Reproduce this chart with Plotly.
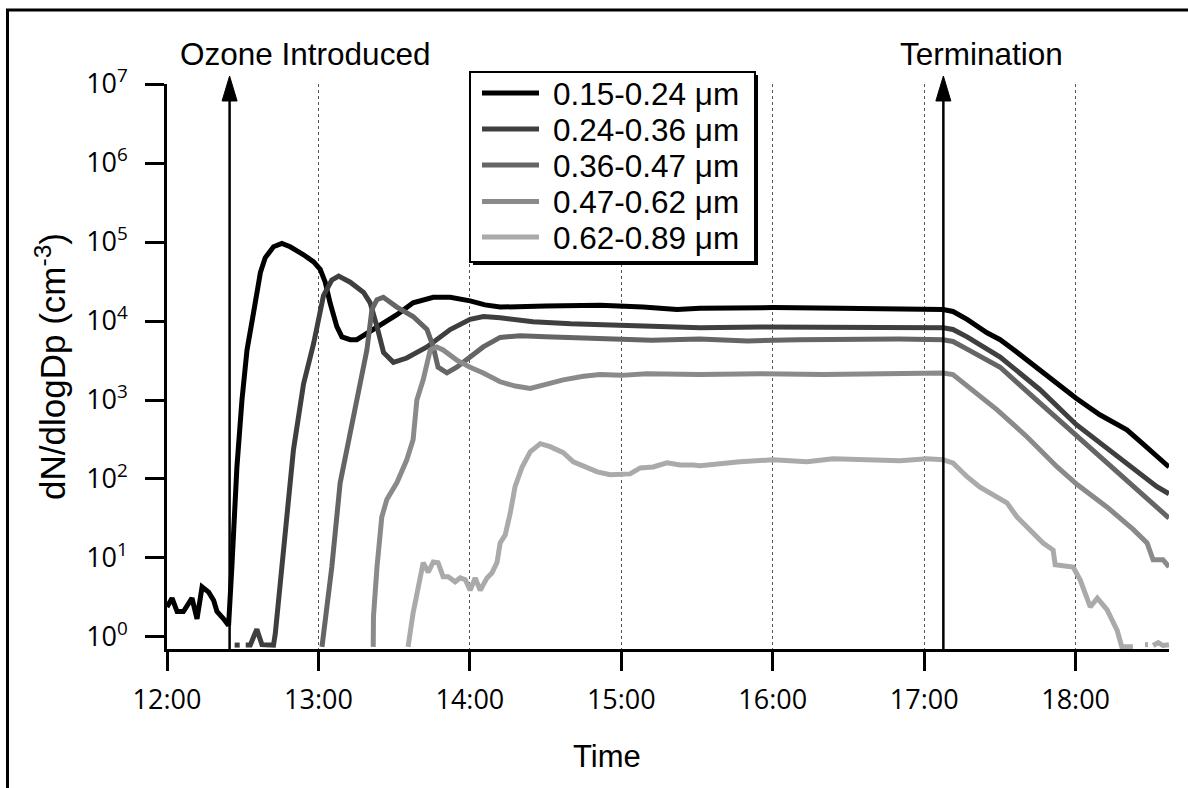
import plotly.graph_objects as go

# ---------------- data (time in minutes after 12:00, dN/dlogDp in cm^-3) ----------------
series_names = ["0.15-0.24 μm", "0.24-0.36 μm", "0.36-0.47 μm", "0.47-0.62 μm", "0.62-0.89 μm"]
series_colors = ["#000000", "#3f3f3f", "#656565", "#8a8a8a", "#aaaaaa"]

t1 = [0, 2, 4, 6.5, 9.9, 11.9, 13.9, 16.5, 18.5, 19.8, 22.4, 24.4, 25.7, 27.7, 29.7, 31.7, 34.3, 37.0,
      38.9, 42.2, 45.5, 48.8, 54.1, 58.1, 60.7, 62.7, 64.6, 67.3, 69.3, 72.6, 75.2, 80.5, 85.7, 91.1,
      97.5, 105.5, 112.2, 120.1, 126, 132, 150, 171.6, 188.6, 202.1, 211.2, 229.8, 240.1, 266.6, 290.4,
      307.5, 311.4, 317.0, 324.9, 330.1, 335.2, 345.9, 352, 360.2, 369.6, 375, 380.3, 386, 392.2, 397]
v1 = [2.4, 3.1, 2.1, 2.1, 3.1, 1.7, 4.3, 3.7, 2.9, 2.1, 1.7, 1.4, 7.7, 142, 1000, 4300, 12800, 41000,
      63000, 87000, 96000, 87000, 69000, 56000, 45000, 31000, 17000, 8500, 6300, 5800, 5800, 7400, 9500, 12000,
      17000, 20000, 20000, 18000, 16000, 15000, 15500, 15800, 15000, 14000, 14500, 15000, 14800, 14500, 14200,
      14000, 13200, 10500, 7100, 5800, 4400, 2400, 1700, 1050, 650, 520, 420, 290, 190, 142]

t2 = [26.8, 28.8, 29.8, 31.2, 33.0, 34.3, 35.6, 37.6, 42.2, 42.9, 46.2, 50.1, 54.1, 58.1, 62.0, 65.3,
      68.0, 72.6, 77.9, 80.5, 83.2, 85.8, 89.7, 95.0, 103.0, 112.2, 120.1, 125.4, 132, 145, 160, 171.6,
      190, 211.2, 235, 260, 285, 307.5, 311.4, 317, 330.1, 345.9, 360.2, 369.6, 380.3, 386, 392.2, 397]
v2 = [0.79, 0.79, None, 0.79, 0.79, 1.0, 1.25, 0.8, 0.79, 1.1, 12.6, 234, 1600, 5200, 21000, 33000,
      37000, 31000, 23000, 17000, 8500, 4000, 3000, 3400, 4700, 7800, 10500, 11400, 11000, 9800, 9200, 8900,
      8600, 8200, 8400, 8300, 8200, 8200, 7800, 6300, 3500, 1350, 490, 290, 156, 113, 80, 65]

t3 = [61.4, 65.3, 68.6, 72.6, 76.5, 79.2, 81.2, 83.2, 85.7, 91.1, 97.5, 103.0, 105.5, 107.4, 110.9,
      114.8, 120.1, 125.3, 132, 140, 150, 171.6, 192, 211, 230, 250, 270, 290, 307.5, 311.4, 317, 330.1,
      345.9, 360.2, 369.6, 380.3, 386, 392.2, 397]
v3 = [0.75, 7.7, 89, 385, 1500, 4300, 14000, 18600, 20000, 15000, 11400, 7800, 4700, 2600, 2200,
      2600, 3500, 4700, 6200, 6500, 6300, 6000, 5700, 5900, 5600, 5800, 5900, 5900, 5800, 5500, 4400, 2600,
      910, 355, 190, 95, 66, 43, 32]

t4 = [81.7, 81.8, 83.2, 85.1, 87.1, 91.1, 95.0, 97.5, 99.0, 101.5, 104.3, 106.9, 109.4, 114.8, 120.1,
      125.3, 132, 138, 143.9, 150, 157, 165, 171.6, 180, 190, 211, 235, 260, 280, 307.5, 311.4, 317,
      328.9, 340.8, 352.7, 360.6, 372.5, 382.8, 388.3, 390.7, 394.6, 397]
v4 = [0.75, 1.8, 7.7, 33, 55, 90, 175, 315, 1000, 1800, 4300, 4700, 4300, 3200, 2600,
      2200, 1700, 1500, 1400, 1600, 1800, 2000, 2100, 2050, 2150, 2100, 2150, 2100, 2150, 2200, 2100, 1500,
      750, 340, 142, 85, 44, 23, 15.5, 9.5, 9.5, 7.7]

t5 = [95.5, 97.5, 101.5, 103.5, 105.5, 107.4, 109.4, 111.4, 114.2, 116.2, 118.2, 120.1, 122.1, 124.1,
      126.8, 128.8, 130.8, 132, 134, 136, 137.9, 140.7, 143.9, 147.9, 151.8, 157, 161, 166.5, 170.5, 175.6,
      179.6, 183.5, 187.5, 192.6, 198.1, 203.3, 208.5, 211.2,
      227.0, 240.1, 253.6, 263.9, 277.3, 290.4, 301.1, 307.5,
      311.4, 317, 322.1, 328.9, 332.8, 336.8, 343.1, 347.1, 351.1, 351.9, 359, 361.8, 365.8, 368.6, 372.5,
      376.5, 378.3, 380.7, 382.7, 383.9, 384.7, 385.9, 387.5, 388.7, 389.5, 390.7, 392.7, 394.6, 397]
v5 = [0.75, 2.0, 8.7, 6.6, 8.9, 8.7, 5.8, 5.8, 5.0, 5.6, 5.3, 3.9, 5.6, 3.9,
      5.6, 6.5, 8.9, 15.5, 19.6, 37, 80, 142, 220, 280, 257, 215, 165, 142, 123, 113,
      113, 116, 138, 142, 160, 150, 150, 147,
      165, 175, 165, 180, 175, 170, 180, 175,
      160, 107, 79, 59, 50, 33, 21, 15.5, 12.6, 8.2, 7.7, 5.3, 2.4, 3.1, 2.2,
      1.2, 0.75, 0.75, 0.75, None, 0.8, None, 0.8, 0.8, None, 0.78, 0.85, 0.78, 0.8]

tick_minutes = [0, 60, 120, 180, 240, 300, 360]
tick_labels = ["12:00", "13:00", "14:00", "15:00", "16:00", "17:00", "18:00"]
y_tick_exponents = [0, 1, 2, 3, 4, 5, 6, 7]
y_tick_labels = ["10<sup>%d</sup>" % e for e in y_tick_exponents]

ozone_time = 24.8          # minutes after 12:00
termination_time = 307.6   # minutes after 12:00
x_end = 397

# ---------------- figure ----------------
W, H = 1188, 788
ML, MR, MT, MB = 167, 19, 84, 139
PW, PH = W - ML - MR, H - MT - MB


def px(xp):
    return (xp - ML) / PW


def py(yp):
    return (H - MB - yp) / PH


arial = "Liberation Sans, Arial, sans-serif"
tickfont = dict(family="Open Sans, DejaVu Sans, sans-serif", size=27, color="black")

fig = go.Figure()
all_t = [t1, t2, t3, t4, t5]
all_v = [v1, v2, v3, v4, v5]
for name, color, tt, vv in zip(series_names, series_colors, all_t, all_v):
    fig.add_trace(go.Scatter(x=tt, y=vv, mode="lines", name=name, showlegend=False,
                             line=dict(color=color, width=5), connectgaps=False))

fig.update_layout(
    width=W, height=H,
    margin=dict(l=ML, r=MR, t=MT, b=MB),
    plot_bgcolor="white", paper_bgcolor="white",
    font=dict(family=arial, color="black", size=27),
    showlegend=False,
)
fig.update_xaxes(range=[0, x_end], showline=True, linecolor="black", linewidth=2.5,
                 ticks="outside", ticklen=19, tickwidth=2.5, tickcolor="black",
                 tickvals=tick_minutes, ticktext=tick_labels, tickfont=tickfont,
                 ticklabelstandoff=6,
                 showgrid=True, gridcolor="#555555", gridwidth=1, griddash="3px,3px",
                 zeroline=False)
fig.update_yaxes(type="log", range=[-0.152, 7], showline=True, linecolor="black", linewidth=2.5,
                 ticks="outside", ticklen=19, tickwidth=2.5, tickcolor="black",
                 tickvals=[10 ** e for e in y_tick_exponents], ticktext=y_tick_labels,
                 tickfont=tickfont, ticklabelstandoff=12,
                 showgrid=False, zeroline=False,
                 title=dict(text="dN/dlogDp (cm<sup>-3</sup>)",
                            font=dict(family=arial, size=35, color="black"), standoff=10))

# outer frame (top and left edges visible)
fig.add_shape(type="path", xref="paper", yref="paper",
              path="M %f,%f L %f,%f L %f,%f" % (px(7.5), py(H + 5), px(7.5), py(10), px(W + 5), py(10)),
              line=dict(color="black", width=3))

# event arrows
half_w = 7.5 / PW * x_end
for tm in (ozone_time, termination_time):
    fig.add_shape(type="line", xref="x", yref="paper", x0=tm, x1=tm, y0=0, y1=py(98),
                  line=dict(color="black", width=2.5), layer="above")
    fig.add_shape(type="path", xref="x", yref="paper",
                  path="M %f,%f L %f,%f L %f,%f Z" % (tm - half_w, py(101), tm, py(76), tm + half_w, py(101)),
                  fillcolor="black", line=dict(color="black", width=1), layer="above")

fig.add_annotation(text="Ozone Introduced", xref="paper", yref="paper", x=px(178), y=py(54),
                   xanchor="left", yanchor="middle", showarrow=False,
                   font=dict(family=arial, size=31.5, color="black"))
fig.add_annotation(text="Termination", xref="paper", yref="paper", x=px(898), y=py(54),
                   xanchor="left", yanchor="middle", showarrow=False,
                   font=dict(family=arial, size=31.5, color="black"))
fig.add_annotation(text="Time", xref="paper", yref="paper", x=px(607), y=py(756),
                   xanchor="center", yanchor="middle", showarrow=False,
                   font=dict(family=arial, size=31, color="black"))

# legend box with drop shadow (drawn as a key, styled like the original)
box_l, box_t, box_r, box_b = 470, 72, 755, 262
fig.add_shape(type="rect", xref="paper", yref="paper", layer="above",
              x0=px(box_l + 3), x1=px(box_r + 3), y0=py(box_b + 3), y1=py(box_t + 3),
              fillcolor="black", line=dict(color="black", width=0))
fig.add_shape(type="rect", xref="paper", yref="paper", layer="above",
              x0=px(box_l), x1=px(box_r), y0=py(box_b), y1=py(box_t),
              fillcolor="white", line=dict(color="black", width=2))
row_y = [93, 129, 165, 201.5, 237]
for name, color, ry in zip(series_names, series_colors, row_y):
    fig.add_shape(type="line", xref="paper", yref="paper", layer="above",
                  x0=px(482), x1=px(539), y0=py(ry), y1=py(ry),
                  line=dict(color=color, width=5))
    fig.add_annotation(text=name, xref="paper", yref="paper", x=px(551), y=py(ry + 1),
                       xanchor="left", yanchor="middle", showarrow=False,
                       font=dict(family=arial, size=31.5, color="black"))

fig.write_html("out.html", config={"displayModeBar": False},
               post_script="document.body.style.margin='0';document.body.style.overflow='hidden';")
